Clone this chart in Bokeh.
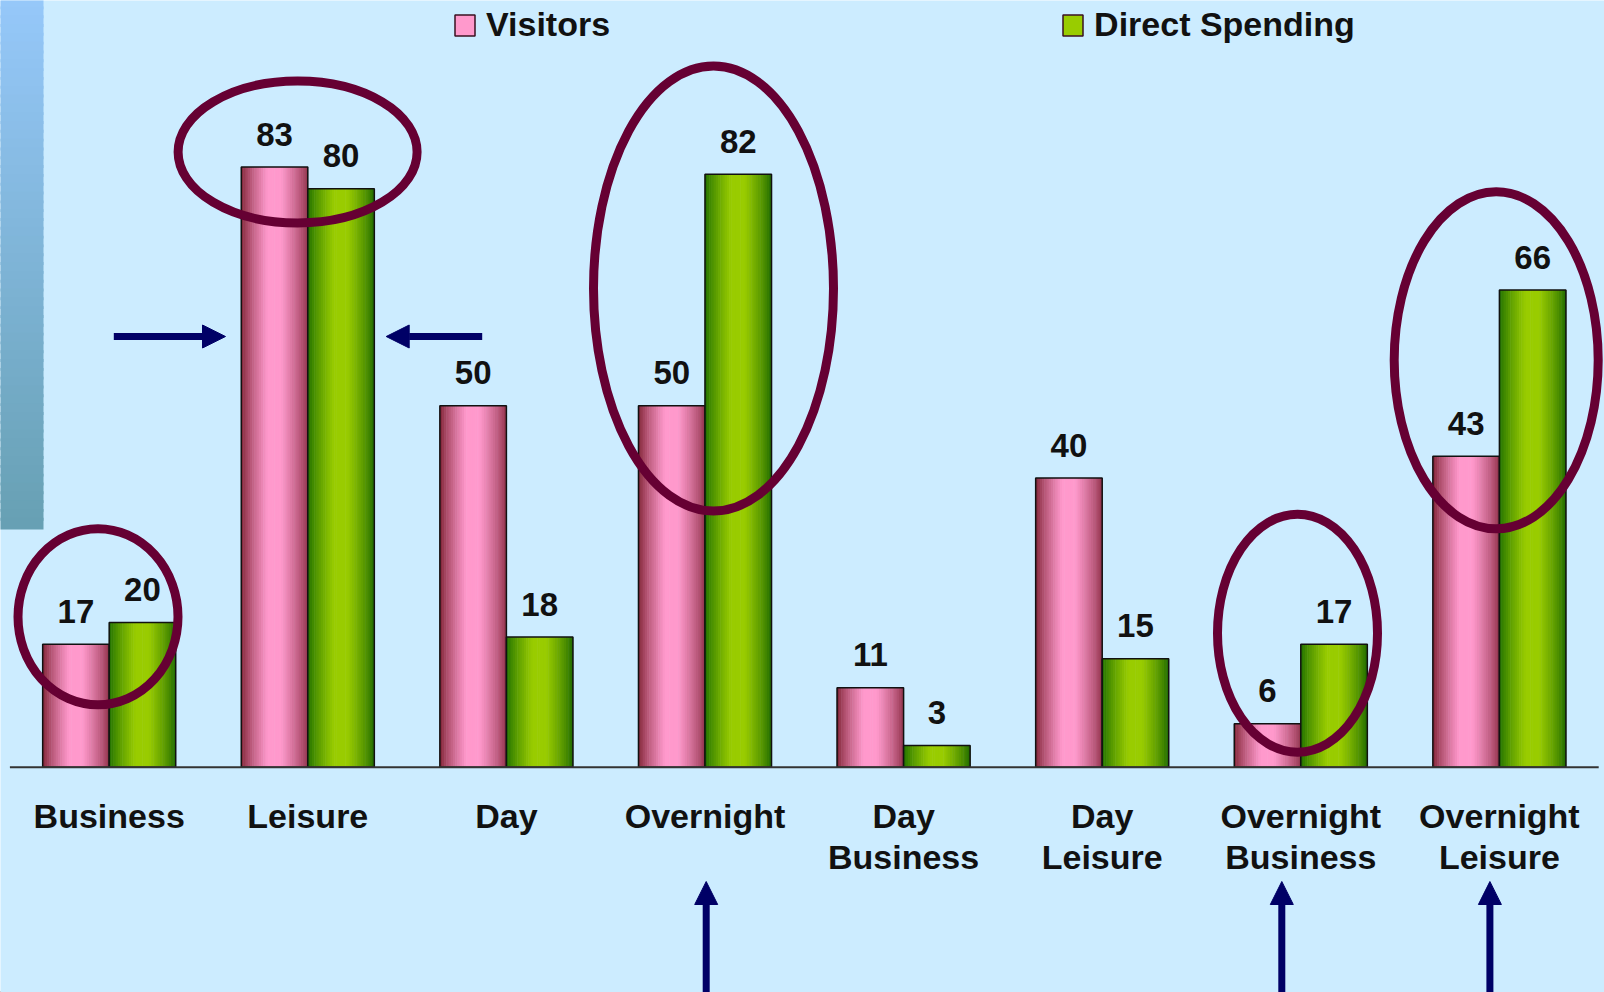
import numpy as np
from bokeh.plotting import figure
from bokeh.models import Range1d, Legend, LegendItem, Arrow, NormalHead
from bokeh.core.properties import value
from bokeh.embed import file_html
from bokeh.resources import INLINE

# ---------------- data ----------------
categories = ["Business", "Leisure", "Day", "Overnight", "Day\nBusiness",
              "Day\nLeisure", "Overnight\nBusiness", "Overnight\nLeisure"]
series_names = ["Visitors", "Direct Spending"]
visitors = [17, 83, 50, 50, 11, 40, 6, 43]
spending = [20, 80, 18, 82, 3, 15, 17, 66]

# ---------------- layout helpers (reference pixel frame) ----------------
W, H = 1604, 992
X0, XS = 9.4, 198.6     # left edge of first category, px per category
Y0, YS = 766.7, 7.23    # baseline, px per unit


def xr(X):
    return (X - X0) / XS


def yr(Y):
    return (Y0 - Y) / YS


BG = "#CCECFF"
FONT = value("Liberation Sans")

p = figure(width=W, height=H, output_backend="svg", toolbar_location=None,
           x_range=Range1d(xr(0), xr(W)), y_range=Range1d(yr(H), yr(0)),
           x_axis_location=None, y_axis_location=None, min_border=0,
           background_fill_color=BG, border_fill_color=BG, outline_line_color=None)
p.grid.visible = False


def hex2rgb(h):
    h = h.lstrip("#")
    return np.array([int(h[i:i + 2], 16) for i in (0, 2, 4)], dtype=float)


def rgb2hex(c):
    c = np.clip(np.round(c), 0, 255).astype(int)
    return "#%02x%02x%02x" % tuple(c)


def profile_color(t, left, mid, right):
    l, m, r = hex2rgb(left), hex2rgb(mid), hex2rgb(right)
    if t < 0.4:
        w = (t / 0.4) ** 0.75
        return rgb2hex(l + (m - l) * w)
    if t > 0.6:
        w = ((1 - t) / 0.4) ** 0.75
        return rgb2hex(r + (m - r) * w)
    return rgb2hex(m)


# ---------------- left decorative strip ----------------
n_s = 60
ys = np.linspace(yr(0), yr(529), n_s + 1)
top_c, bot_c = hex2rgb("#96C8FA"), hex2rgb("#67A0B3")
cols = [rgb2hex(top_c + (bot_c - top_c) * (i + 0.5) / n_s) for i in range(n_s)]
p.quad(left=xr(-2), right=xr(43), top=np.append(ys[:1] + 1, ys[1:-1] + 0.4),
       bottom=ys[1:], fill_color=cols, line_color=None)

# ---------------- bars ----------------
xc = np.arange(len(categories)) + 0.5
bw = 0.335
N = 30
specs = [
    (visitors, -bw / 2, ("#7a1e2e", "#ff99cc", "#8e2f47"), "#ff99cc"),
    (spending, +bw / 2, ("#1a6c00", "#99cc00", "#1c6800"), "#99cc00"),
]
legend_renderers = []
for vals, off, (lc, mc, rc), solid in specs:
    sx, st, sc = [], [], []
    for c, v in zip(xc, vals):
        for j in range(N):
            t = (j + 0.5) / N
            sx.append(c + off - bw / 2 + t * bw)
            st.append(v)
            sc.append(profile_color(t, lc, mc, rc))
    p.vbar(x=sx, top=st, bottom=0, width=bw / N * 1.25, fill_color=sc, line_color=None)
    p.vbar(x=xc + off, top=vals, bottom=0, width=bw, fill_alpha=0,
           line_color="#111111", line_width=1.5)
    # value labels
    p.text(x=xc + off, y=vals, text=[str(v) for v in vals], text_align="center",
           text_baseline="alphabetic", y_offset=-33, text_font=FONT,
           text_font_style="bold", text_font_size="33px", text_color="#111111")
    # off-screen proxy renderer for the legend swatch
    r = p.vbar(x=[-100], top=[-500], bottom=[-501], width=bw, fill_color=solid,
               line_color="#3a1020", line_width=1.5)
    legend_renderers.append(r)

# baseline
p.segment(x0=[0], y0=[0], x1=[len(categories)], y1=[0], line_color="#333333",
          line_width=2)

# ---------------- category labels ----------------
lines1 = [c.split("\n")[0] for c in categories]
lines2 = [c.split("\n")[1] if "\n" in c else "" for c in categories]
p.text(x=xc, y=yr(815.0), text=lines1, text_align="center", text_baseline="alphabetic",
       text_font=FONT, text_font_style="bold", text_font_size="34px", text_color="#111111")
p.text(x=xc, y=yr(856.7), text=lines2, text_align="center", text_baseline="alphabetic",
       text_font=FONT, text_font_style="bold", text_font_size="34px", text_color="#111111")

# ---------------- ellipses (highlights) ----------------
ell = [  # center x, center y, width, height in reference px
    (97.5, 616.3, 160, 176),
    (297.1, 151.5, 239, 142),
    (713.0, 288.0, 240, 445),
    (1297.0, 632.7, 160, 238),
    (1495.7, 359.8, 204, 337),
]
p.ellipse(x=[xr(e[0]) for e in ell], y=[yr(e[1]) for e in ell],
          width=[e[2] / XS for e in ell], height=[e[3] / YS for e in ell],
          fill_alpha=0, line_color="#660033", line_width=9)

# ---------------- arrows ----------------
NAVY = "#000066"
arrows = [
    ((113.3, 336.0), (225.0, 336.0)),
    ((481.7, 336.0), (385.7, 336.0)),
    ((705.7, 1005.0), (705.7, 881.0)),
    ((1281.3, 1005.0), (1281.3, 881.0)),
    ((1489.4, 1005.0), (1489.4, 881.0)),
]
for (sxp, syp), (exp_, eyp) in arrows:
    p.add_layout(Arrow(end=NormalHead(size=23, fill_color=NAVY, line_color=NAVY, line_width=1),
                       x_start=xr(sxp), y_start=yr(syp), x_end=xr(exp_), y_end=yr(eyp),
                       line_color=NAVY, line_width=7))

# ---------------- legend ----------------
legend = Legend(items=[LegendItem(label=series_names[0], renderers=[legend_renderers[0]]),
                       LegendItem(label=series_names[1], renderers=[legend_renderers[1]])],
                orientation="horizontal", location=(452, 948),
                glyph_width=25, glyph_height=26, label_standoff=9, spacing=450,
                padding=0, margin=0, border_line_color=None, background_fill_alpha=0,
                label_text_font="Liberation Sans", label_text_font_style="bold",
                label_text_font_size="34px", label_text_color="#111111")
p.add_layout(legend)

open("out.html", "w").write(file_html(p, INLINE))
